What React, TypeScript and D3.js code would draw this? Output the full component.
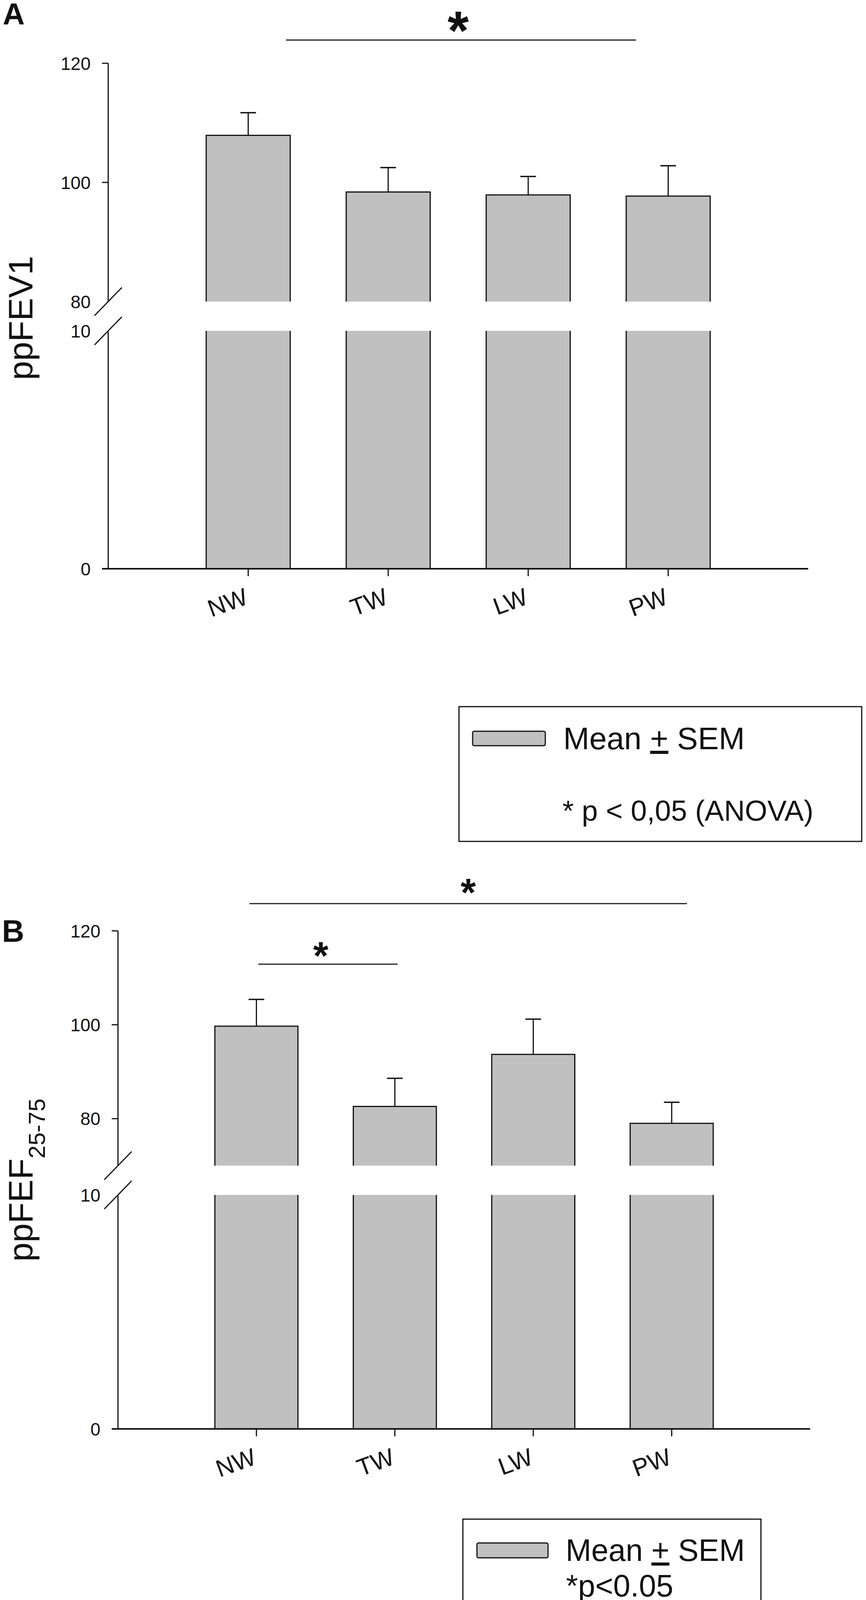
import React from 'react';
import * as d3 from 'd3';

// Groups on the x axis
const categories = ['NW', 'TW', 'LW', 'PW'];

// Panel A: ppFEV1, mean and SEM
const fev1Mean = [107.9, 98.4, 97.9, 97.7];
const fev1Sem = [3.8, 4.1, 3.1, 5.1];

// Panel B: ppFEF25-75, mean and SEM
const fefMean = [99.7, 82.6, 93.7, 79.0];
const fefSem = [5.7, 6.0, 7.5, 4.5];

// Tick labels of the broken y axis
const fev1UpperLabels = [80, 100, 120];
const fev1UpperMarks = [100, 120];
const fefUpperLabels = [80, 100, 120];
const fefUpperMarks = [80, 100, 120];
const lowerLabels = [0, 10];
const lowerMarks = [0];

const FONT = "'Liberation Sans', Arial, Helvetica, sans-serif";
const BAR_FILL = '#c0c0c0';
const INK = '#111';

interface SigLine {
  from: number; // in category steps from the first centre
  to: number;
  value: number; // y position, in axis units
  star: number;
  starSize: number;
  starDy: number;
}

interface PanelProps {
  axisX: number;
  axisRight: number;
  upper: [number, number];
  upperRange: [number, number];
  lowerRange: [number, number];
  means: number[];
  sems: number[];
  upperLabels: number[];
  upperMarks: number[];
  sig: SigLine[];
}

function Panel({ axisX, axisRight, upper, upperRange, lowerRange, means, sems, upperLabels, upperMarks, sig }: PanelProps) {
  const x = d3.scaleBand<string>()
    .domain(categories)
    .range([axisX, axisRight])
    .paddingInner(0.4)
    .paddingOuter(0.7);
  const yUp = d3.scaleLinear().domain(upper).range(upperRange);
  const yLow = d3.scaleLinear().domain([0, 10]).range(lowerRange);
  const bw = x.bandwidth();
  const step = x.step();
  const c0 = x(categories[0])! + bw / 2;
  const base = yLow(0);
  const breakHi = yUp(upper[0]);
  const breakLo = yLow(10);

  const slash = (y: number, key: string) => (
    <line key={key} x1={axisX - 35} y1={y + 36} x2={axisX + 35} y2={y - 36} stroke={INK} strokeWidth={3} />
  );

  return (
    <g fontFamily={FONT}>
      {/* bars */}
      {categories.map((c, i) => {
        const x0 = x(c)!;
        const x1 = x0 + bw;
        const top = yUp(means[i]);
        const cx = x0 + bw / 2;
        const cap = yUp(means[i] + sems[i]);
        return (
          <g key={c}>
            <rect x={x0} y={top} width={bw} height={breakHi - top} fill={BAR_FILL} />
            <rect x={x0} y={breakLo} width={bw} height={base - breakLo} fill={BAR_FILL} />
            <path d={`M${x0},${breakHi}V${top}H${x1}V${breakHi}`} fill="none" stroke={INK} strokeWidth={3} />
            <path d={`M${x0},${breakLo}V${base}M${x1},${breakLo}V${base}`} fill="none" stroke={INK} strokeWidth={3} />
            <line x1={cx} x2={cx} y1={top} y2={cap} stroke={INK} strokeWidth={3} />
            <line x1={cx - 20} x2={cx + 20} y1={cap} y2={cap} stroke={INK} strokeWidth={3.5} />
          </g>
        );
      })}

      {/* y axis, broken */}
      <line x1={axisX} x2={axisX} y1={yUp(upper[1])} y2={breakHi} stroke={INK} strokeWidth={3} />
      <line x1={axisX} x2={axisX} y1={breakLo} y2={base} stroke={INK} strokeWidth={3} />
      {slash(breakHi, 'hi')}
      {slash(breakLo, 'lo')}
      {upperMarks.map(v => (
        <line key={`um${v}`} x1={axisX - 16} x2={axisX} y1={yUp(v)} y2={yUp(v)} stroke={INK} strokeWidth={3} />
      ))}
      {lowerMarks.map(v => (
        <line key={`lm${v}`} x1={axisX - 16} x2={axisX} y1={yLow(v)} y2={yLow(v)} stroke={INK} strokeWidth={3} />
      ))}
      {upperLabels.map(v => (
        <text key={`ul${v}`} x={axisX - 45} y={yUp(v)} dy="0.36em" textAnchor="end" fontSize={46} fill={INK}>{v}</text>
      ))}
      {lowerLabels.map(v => (
        <text key={`ll${v}`} x={axisX - 45} y={yLow(v)} dy="0.36em" textAnchor="end" fontSize={46} fill={INK}>{v}</text>
      ))}

      {/* x axis */}
      <line x1={axisX - 16} x2={axisRight} y1={base} y2={base} stroke={INK} strokeWidth={4} />
      {categories.map(c => {
        const cx = x(c)! + bw / 2;
        return (
          <g key={`xt${c}`}>
            <line x1={cx} x2={cx} y1={base} y2={base + 19} stroke={INK} strokeWidth={3} />
            <text
              transform={`translate(${cx + 3},${base + 89}) rotate(-20)`}
              textAnchor="end"
              fontSize={62}
              fill={INK}
            >{c}</text>
          </g>
        );
      })}

      {/* significance */}
      {sig.map((s, i) => (
        <g key={`sig${i}`}>
          <line x1={c0 + s.from * step} x2={c0 + s.to * step} y1={yUp(s.value)} y2={yUp(s.value)} stroke="#222" strokeWidth={3} />
          <text
            x={c0 + s.star * step}
            y={yUp(s.value) + s.starDy}
            textAnchor="middle"
            fontSize={s.starSize}
            fontWeight="bold"
            fill={INK}
          >*</text>
        </g>
      ))}
    </g>
  );
}

function Legend({ box, swatch, lines }: { box: number[]; swatch: number[]; lines: { x: number; y: number; size: number; kind: string }[] }) {
  return (
    <g fontFamily={FONT} fill={INK}>
      <rect x={box[0]} y={box[1]} width={box[2] - box[0]} height={box[3] - box[1]} fill="#fff" stroke={INK} strokeWidth={3} />
      <rect x={swatch[0]} y={swatch[1]} width={swatch[2] - swatch[0]} height={swatch[3] - swatch[1]} rx={4} fill={BAR_FILL} stroke={INK} strokeWidth={3} />
      {lines.map((l, i) => (
        <text key={i} x={l.x} y={l.y} fontSize={l.size}>
          {l.kind === 'mean' ? (
            <>
              <tspan>Mean </tspan>
              <tspan textDecoration="underline">+</tspan>
              <tspan> SEM</tspan>
            </>
          ) : l.kind}
        </text>
      ))}
    </g>
  );
}

export default function App() {
  return (
    <div style={{ position: 'absolute', left: 0, top: 0 }}>
      <svg width={2217} height={4247} viewBox="0 0 2217 4247" style={{ display: 'block', background: '#fff' }}>
        <rect width={2217} height={4247} fill="#fff" />

        {/* Panel A */}
        <text x={7} y={63} fontFamily={FONT} fontWeight="bold" fontSize={78} fill={INK}>A</text>
        <text
          transform="translate(83,814) rotate(-90)"
          textAnchor="middle"
          fontFamily={FONT}
          fontSize={88}
          fill={INK}
        >ppFEV1</text>
        <Panel
          axisX={277}
          axisRight={2069}
          upper={[80, 120]}
          upperRange={[772, 162]}
          lowerRange={[1456, 847]}
          means={fev1Mean}
          sems={fev1Sem}
          upperLabels={fev1UpperLabels}
          upperMarks={fev1UpperMarks}
          sig={[{ from: 0.27, to: 2.77, value: 123.9, star: 1.5, starSize: 140, starDy: 23 }]}
        />
        <Legend
          box={[1175, 1809, 2206, 2154]}
          swatch={[1210, 1872, 1396, 1909]}
          lines={[
            { x: 1442, y: 1918, size: 80, kind: 'mean' },
            { x: 1440, y: 2101, size: 74, kind: '* p < 0,05 (ANOVA)' },
          ]}
        />

        {/* Panel B */}
        <text x={5} y={2411} fontFamily={FONT} fontWeight="bold" fontSize={79} fill={INK}>B</text>
        <text
          transform="translate(83,3021) rotate(-90)"
          textAnchor="middle"
          fontFamily={FONT}
          fontSize={88}
          fill={INK}
        >
          <tspan>ppFEF</tspan>
          <tspan fontSize={60} dy={32}>25-75</tspan>
        </text>
        <Panel
          axisX={302}
          axisRight={2074}
          upper={[70, 120]}
          upperRange={[2984, 2383]}
          lowerRange={[3658, 3059]}
          means={fefMean}
          sems={fefSem}
          upperLabels={fefUpperLabels}
          upperMarks={fefUpperMarks}
          sig={[
            { from: -0.05, to: 3.11, value: 125.8, star: 1.53, starSize: 100, starDy: 6 },
            { from: 0.014, to: 1.02, value: 112.9, star: 0.465, starSize: 100, starDy: 13 },
          ]}
        />
        <Legend
          box={[1185, 3889, 1948, 4230]}
          swatch={[1221, 3950, 1403, 3988]}
          lines={[
            { x: 1448, y: 3996, size: 79, kind: 'mean' },
            { x: 1449, y: 4087, size: 79, kind: '*p<0.05' },
          ]}
        />
      </svg>
    </div>
  );
}
